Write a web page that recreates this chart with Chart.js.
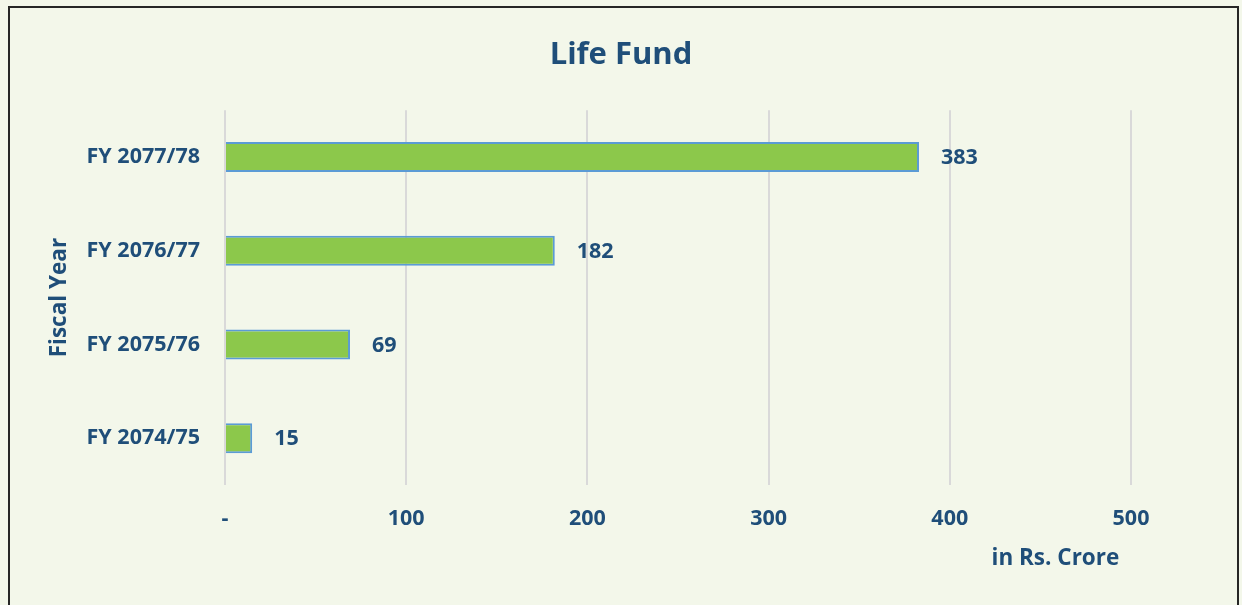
<!DOCTYPE html>
<html>
<head>
<meta charset="utf-8">
<script src="https://cdn.jsdelivr.net/npm/chart.js@4.4.0/dist/chart.umd.min.js"></script>
<style>
  body { margin: 0; background: #F3F7EA; overflow: hidden; }
  #wrap { position: relative; width: 1242px; height: 605px; }
  #frame { position: absolute; left: 8px; top: 6px; width: 1227px; height: 620px; border: 2px solid #262626; pointer-events: none; }
</style>
</head>
<body>
<div id="wrap">
  <canvas id="fund-chart" width="1242" height="605"></canvas>
  <div id="frame"></div>
</div>
<script>
const years = ['FY 2077/78', 'FY 2076/77', 'FY 2075/76', 'FY 2074/75'];
const lifeFund = [383, 182, 69, 15];
const xTicks = [0, 100, 200, 300, 400, 500];

const textColor = '#1F4E79';
const fontFamily = '"Open Sans", Lato, sans-serif';

// value labels next to each bar
const valueLabels = {
  id: 'valueLabels',
  afterDatasetsDraw(chart) {
    const ctx = chart.ctx;
    const meta = chart.getDatasetMeta(0);
    ctx.save();
    ctx.font = 'bold 21.5px ' + fontFamily;
    ctx.fillStyle = textColor;
    ctx.textAlign = 'left';
    ctx.textBaseline = 'middle';
    meta.data.forEach((bar, i) => {
      ctx.fillText(lifeFund[i], bar.x + 22, bar.y + 1);
    });
    ctx.restore();
  }
};

const ctx = document.getElementById('fund-chart');

new Chart(ctx, {
  type: 'bar',
  data: {
    labels: years,
    datasets: [{
      label: 'Life Fund',
      data: lifeFund,
      backgroundColor: '#8CC84B',
      borderColor: '#5B9BD5',
      borderWidth: 2,
      categoryPercentage: 0.32,
      barPercentage: 1
    }]
  },
  plugins: [valueLabels],
  options: {
    indexAxis: 'y',
    responsive: false,
    animation: false,
    layout: { padding: 0 },
    plugins: {
      legend: { display: false },
      tooltip: { enabled: false },
      title: {
        display: true,
        text: 'Life Fund',
        color: textColor,
        font: { family: fontFamily, size: 31, weight: 'bold' },
        padding: { top: 37, bottom: 36 }
      }
    },
    scales: {
      x: {
        min: 0,
        max: 500,
        afterBuildTicks: (scale) => { scale.ticks = xTicks.map(v => ({ value: v })); },
        afterFit: (scale) => { scale.height = 120; },
        grid: { color: '#D9D9D9', lineWidth: 2, drawTicks: false },
        border: { display: false },
        ticks: {
          padding: 21,
          color: textColor,
          font: { family: fontFamily, size: 21.5, weight: 'bold' },
          callback: (v) => v === 0 ? '-' : v
        },
        title: {
          display: true,
          text: 'in Rs. Crore  ',
          align: 'end',
          color: textColor,
          font: { family: fontFamily, size: 22.5, weight: 'bold' },
          padding: { top: 0, bottom: 33 }
        }
      },
      y: {
        afterFit: (scale) => { scale.width = 225; },
        grid: { display: false, drawTicks: false },
        border: { display: false },
        ticks: {
          padding: 25,
          color: textColor,
          font: { family: fontFamily, size: 21.5, weight: 'bold' }
        },
        title: {
          display: true,
          text: 'Fiscal Year',
          color: textColor,
          font: { family: fontFamily, size: 22.5, weight: 'bold' },
          padding: { top: 46, bottom: 0 }
        }
      },
      // empty right axis keeps the plot narrower while the title stays centred on the page
      yRight: {
        type: 'category',
        position: 'right',
        afterFit: (scale) => { scale.width = 111; },
        grid: { display: false },
        border: { display: false },
        ticks: { display: false }
      }
    }
  }
});
</script>
</body>
</html>
